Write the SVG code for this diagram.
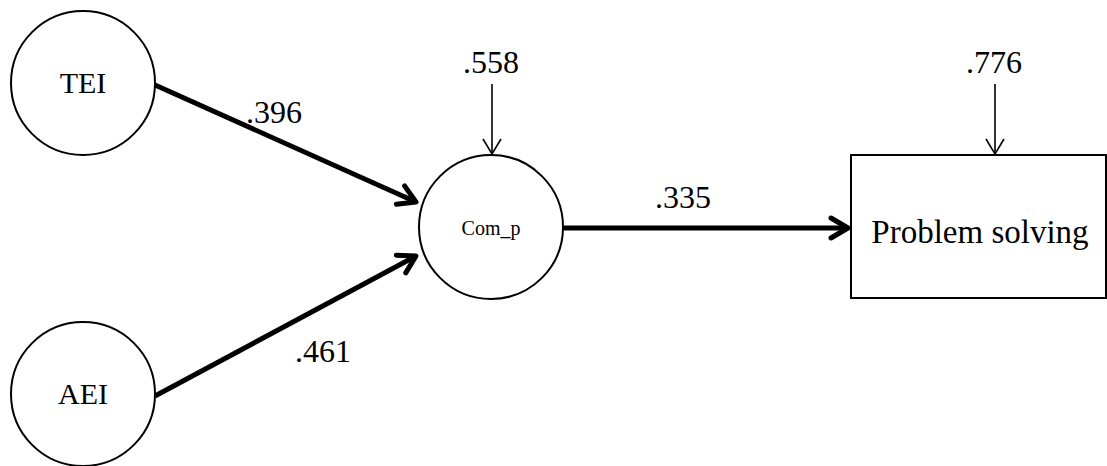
<svg xmlns="http://www.w3.org/2000/svg" width="1107" height="466" viewBox="0 0 1107 466">
<style>
.node{fill:#fff;stroke:#000;stroke-width:2}
.lbl{font-family:"Liberation Serif","DejaVu Serif",serif;fill:#000}
.thick{stroke:#000;stroke-width:5;fill:none}
.thin{stroke:#000;stroke-width:1.6;fill:none}
</style>
<defs>
<marker id="ah" markerUnits="userSpaceOnUse" viewBox="-22 -14 26 28" refX="0" refY="0" markerWidth="26" markerHeight="28" orient="auto">
<path d="M -17 -10 L 0 0 L -17 10" fill="none" stroke="#000" stroke-width="5" stroke-linecap="round" stroke-linejoin="round"/>
</marker>
<marker id="at" markerUnits="userSpaceOnUse" viewBox="-18 -12 22 24" refX="0" refY="0" markerWidth="22" markerHeight="24" orient="auto">
<path d="M -15 -9 L 0 0 L -15 9" fill="none" stroke="#000" stroke-width="1.6"/>
</marker>
</defs>
<g id="connectors">
<line class="thick" x1="155" y1="85" x2="416" y2="202" marker-end="url(#ah)"/>
<line class="thick" x1="155" y1="396" x2="416" y2="256" marker-end="url(#ah)"/>
<line class="thick" x1="563" y1="228" x2="848" y2="228" marker-end="url(#ah)"/>
<line class="thin" x1="492" y1="84" x2="492" y2="154" marker-end="url(#at)"/>
<line class="thin" x1="995" y1="84" x2="995" y2="154" marker-end="url(#at)"/>
<text class="lbl" x="246" y="123" font-size="32">.396</text>
<text class="lbl" x="295" y="362" font-size="32">.461</text>
<text class="lbl" x="655" y="208" font-size="32">.335</text>
<text class="lbl" x="463" y="73" font-size="32">.558</text>
<text class="lbl" x="966" y="73" font-size="32">.776</text>
</g>
<g id="TEI">
<circle class="node" cx="83" cy="83" r="72"/>
<text class="lbl" x="83" y="93" font-size="30" text-anchor="middle">TEI</text>
</g>
<g id="AEI">
<circle class="node" cx="83" cy="394" r="72"/>
<text class="lbl" x="83" y="404" font-size="30" text-anchor="middle">AEI</text>
</g>
<g id="Com_p">
<circle class="node" cx="491" cy="227" r="72"/>
<text class="lbl" x="491" y="235" font-size="20" text-anchor="middle">Com_p</text>
</g>
<g id="Problem_solving">
<rect class="node" x="851" y="155" width="255" height="143"/>
<text class="lbl" x="980" y="243" font-size="33" text-anchor="middle">Problem solving</text>
</g>
</svg>
